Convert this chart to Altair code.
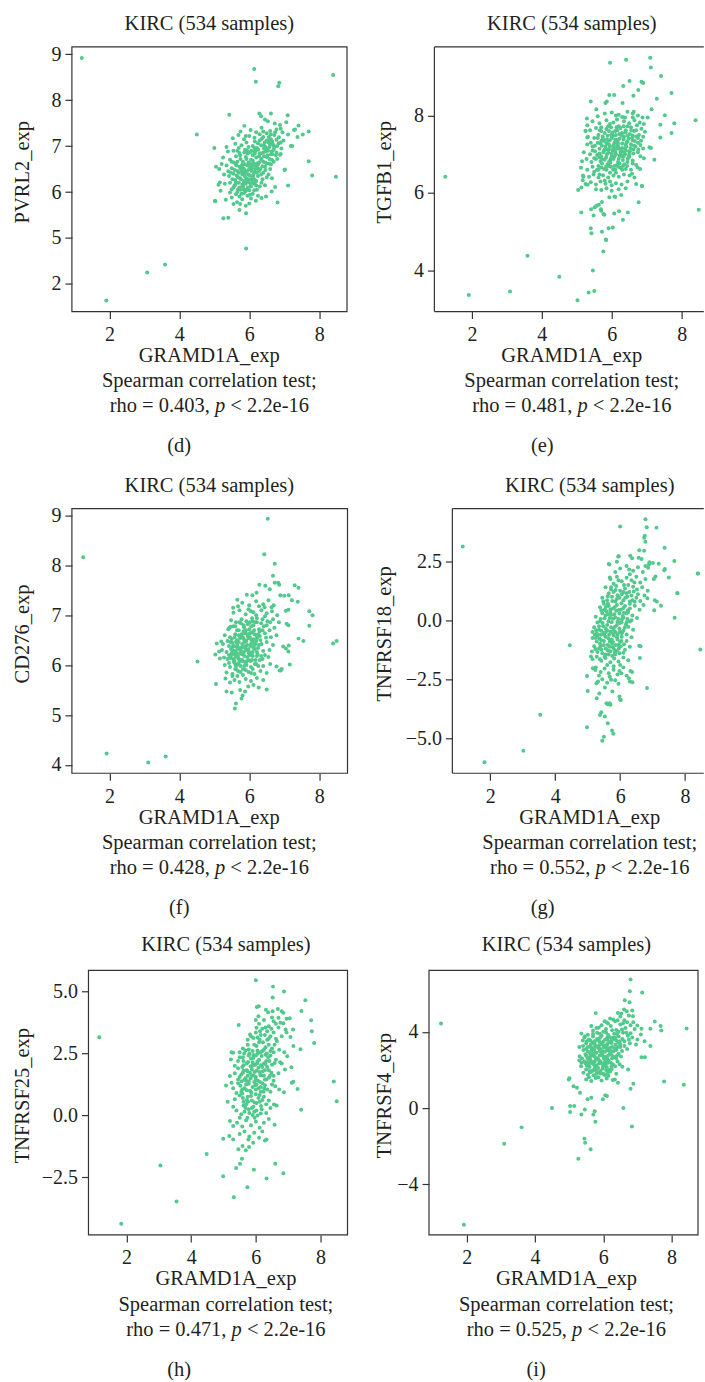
import altair as alt
import pandas as pd

FONT = "Liberation Serif, DejaVu Serif, serif"
GREEN = "#50c98b"
INK = "#231f20"
AX = "#333333"

TITLE = "KIRC (534 samples)"
X_TITLE = "GRAMD1A_exp"
TEST = "Spearman correlation test;"
X_TICKS = [2, 4, 6, 8]

Y_TITLES = {"d": "PVRL2_exp", "e": "TGFB1_exp", "f": "CD276_exp",
            "g": "TNFRSF18_exp", "h": "TNFRSF25_exp", "i": "TNFRSF4_exp"}
RHO = {"d": "0.403", "e": "0.481", "f": "0.428", "g": "0.552", "h": "0.471", "i": "0.525"}
Y_TICKS = {"d": [4, 5, 6, 7, 8, 9], "e": [4, 6, 8], "f": [4, 5, 6, 7, 8, 9],
           "g": [-5, -2.5, 0, 2.5], "h": [-2.5, 0, 2.5, 5], "i": [-4, 0, 4]}

# ---------------- panel (d) PVRL2 ----------------
D_OUT = [(1.21,8.92),(6.14,8.68),(6.19,8.40),(6.86,8.38),(6.83,8.30),(8.40,8.55),(4.50,7.25),(5.43,7.68),
         (6.29,7.71),(6.34,7.65),(6.62,7.71),(7.10,7.67),(7.70,7.32),(7.41,7.45),(7.31,7.36),(7.38,7.20),
         (7.53,7.25),(7.70,6.67),(7.80,6.36),(8.48,6.33),(5.00,6.96),(5.02,5.81),(5.26,5.43),(5.40,5.44),
         (5.91,4.77),(3.08,4.25),(3.59,4.42),(1.91,3.64),(6.81,5.77),(7.11,6.14),(7.02,6.49),(7.19,7.00),
         (7.23,7.00),(6.88,6.81),(7.28,7.35),(7.11,7.25),(7.06,7.52),(6.90,6.83)]
D_CORE = [(5.86,7.44),(6.04,7.35),(6.53,7.54),(6.73,7.49),(6.88,7.46),(6.45,7.58),(6.35,7.40),
          (5.75,7.32),(5.69,7.24),(6.20,7.30),(6.60,7.33),(6.78,7.36),(6.95,7.30),(6.50,7.28),(6.90,7.38),
          (5.53,7.17),(5.85,7.15),(6.00,7.22),(6.15,7.18),(6.40,7.20),(6.62,7.15),(6.72,7.24),(6.85,7.19),(6.98,7.12),(6.30,7.12),
          (5.35,6.98),(5.60,7.05),(5.78,7.02),(5.92,7.08),(6.10,7.00),(6.25,7.06),(6.42,7.02),(6.55,7.08),(6.68,7.04),(6.80,7.00),(6.92,6.95),(6.50,6.95),(6.70,6.92),
          (5.39,6.88),(5.55,6.90),(5.72,6.85),(5.88,6.92),(6.02,6.86),(6.18,6.90),(6.33,6.84),(6.47,6.88),(6.62,6.82),(6.78,6.86),(6.10,6.80),
          (5.25,6.75),(5.45,6.70),(5.62,6.78),(5.75,6.72),(5.90,6.76),(6.05,6.70),(6.20,6.75),(6.35,6.72),(6.50,6.76),(6.65,6.70),(6.80,6.72),(5.82,6.66),(6.28,6.64),(6.58,6.62),
          (5.05,6.55),(5.14,6.50),(5.21,6.61),(5.35,6.58),(5.50,6.52),(5.62,6.60),(5.72,6.55),(5.85,6.50),(5.95,6.58),(6.08,6.52),(6.20,6.56),(6.32,6.50),(6.45,6.55),(6.60,6.50),(7.01,6.48),(5.78,6.45),(6.15,6.44),(6.40,6.42),(6.55,6.38),
          (5.28,6.38),(5.42,6.35),(5.55,6.40),(5.68,6.32),(5.80,6.38),(5.92,6.30),(6.02,6.36),(6.12,6.30),(6.25,6.35),(6.38,6.28),(6.50,6.32),(6.65,6.30),(5.60,6.26),(5.98,6.22),(6.20,6.24),
          (5.16,6.21),(5.12,6.16),(5.30,6.18),(5.45,6.20),(5.58,6.14),(5.70,6.20),(5.82,6.12),(5.90,6.18),(6.05,6.12),(6.15,6.18),(6.30,6.12),(6.45,6.15),(6.74,6.11),(5.50,6.06),(5.75,6.05),(6.00,6.04),
          (5.18,6.03),(5.45,5.99),(5.50,5.88),(5.62,5.95),(5.72,5.90),(5.85,5.98),(5.95,5.92),(6.10,5.96),(6.25,5.92),(6.64,6.01),(6.48,5.90),(6.35,5.87),(5.80,5.84),(6.05,5.86),
          (5.03,5.80),(5.33,5.83),(5.55,5.74),(5.74,5.74),(6.00,5.75),(6.19,5.81),(5.90,5.70),(5.65,5.78),
          (5.72,5.61),(5.91,5.54),
          (5.66,6.66),(5.98,6.64),(6.12,6.62),(6.40,6.66),(5.88,6.40),(6.06,6.46),(6.28,6.46),(5.66,6.46),(5.85,6.24),(6.08,6.26),(6.35,6.20),
          (5.78,6.56),(6.02,6.52),(6.25,6.60),(5.95,6.84),(6.42,6.95),(6.58,6.98),(6.15,6.96),(5.70,6.96),(6.62,7.25),(6.40,7.32),(5.92,6.05),(6.22,6.05),
          (5.52,6.28),(5.64,6.36),(5.76,6.28),(5.88,6.34),(6.00,6.28),(6.12,6.38),(5.58,6.48),(5.70,6.42),(5.82,6.52),(5.94,6.46),(6.06,6.56),(6.18,6.50),
          (5.60,6.16),(5.72,6.10),(5.84,6.18),(5.96,6.10),(6.08,6.20),(6.20,6.14),(5.66,6.00),(5.78,5.96),(5.90,6.02),(6.02,5.94),(6.14,6.04),(5.55,6.10),
          (6.10,6.68),(6.22,6.62),(6.34,6.70),(6.46,6.64),(6.58,6.72),(6.70,6.66),(6.16,6.84),(6.28,6.78),(6.40,6.86),(6.52,6.80),(6.64,6.88),(6.76,6.80),
          (6.22,6.96),(6.34,7.02),(6.46,6.98),(6.60,7.04),(6.72,6.98),(6.84,7.06),(6.36,7.16),(6.50,7.12),(6.66,7.10),(6.78,7.14),(6.90,7.08),(6.56,7.20),
          (5.80,6.60),(5.92,6.72),(6.04,6.60),(5.74,6.80),(5.86,6.86),(5.98,6.98),(6.16,7.10),(5.90,7.22),(5.50,6.66),(5.40,6.45)]
D_MORE = [(5.64,6.58),(5.76,6.50),(5.88,6.60),(6.00,6.50),(6.12,6.58),(5.62,6.20),(5.74,6.30),(5.86,6.44),(5.98,6.38),(6.10,6.32),
          (6.22,6.42),(5.68,6.06),(5.80,6.16),(5.92,6.24),(6.04,6.16),(6.16,6.26),(5.84,6.06),(6.00,6.62),(6.30,6.84),(6.42,6.78),
          (6.54,6.90),(6.66,6.82),(6.44,7.08),(6.58,7.12),(6.70,7.00),(6.26,6.92),(6.38,6.56),(6.50,6.62),(6.62,6.60),(6.24,6.52),
          (5.94,6.90),(6.06,6.90),(6.30,7.26),(6.74,7.30),(5.66,6.90),(5.56,6.64),(5.48,6.42),(6.34,6.38),(6.46,6.48),(6.14,6.88)]

# ---------------- panel (e) TGFB1 ----------------
E_OUT = [(1.24,6.42),(1.91,3.37),(3.09,3.46),(3.59,4.38),(4.50,3.84),(5.02,3.23),(5.34,3.43),(5.50,3.47),
         (5.46,4.00),(5.76,4.49),(5.83,4.80),(8.40,7.88),(8.49,5.57),(5.95,9.36),(6.41,9.44),(7.10,9.49),
         (7.12,9.24),(7.41,9.02),(7.71,8.58),(7.79,7.80),(7.71,7.55),(7.52,8.01),(7.39,7.76),(7.39,7.43),
         (7.22,6.86),(7.29,8.43),(5.04,6.08),(5.13,5.50),(5.41,5.58),(5.51,5.63),(5.40,5.09),(5.42,4.96),
         (5.72,5.00),(5.91,5.09),(6.03,5.11),(6.07,5.47),(6.21,5.53),(6.46,5.50),(6.32,5.31),(6.77,5.76),
         (6.86,6.18),(5.70,5.54),(5.79,5.44),(6.08,5.91),(6.27,5.95),(5.40,8.36),(5.56,8.16),(5.93,8.53),
         (6.07,8.53),(6.33,8.76),(6.51,8.89),(6.85,8.87),(6.90,8.84),(6.62,8.51),(6.76,8.66),(5.29,7.92),
         (5.25,7.61),(5.30,7.43),(5.82,8.32),(5.86,8.36),(6.31,8.32),(6.63,8.10),(7.14,8.16),(7.08,7.18),
         (7.12,7.16),(6.92,6.90),(7.03,7.95),(5.57,5.67),(5.63,5.70),(5.48,5.42),(5.69,5.58),(5.76,5.46),
         (5.72,5.77),(5.93,5.89),(6.10,5.90),(5.84,4.79),(5.13,6.14),(5.17,6.33),(5.19,6.42),(5.25,6.23),
         (5.31,6.21),(6.70,6.23),(6.87,6.18),(6.74,6.66),(6.81,6.62),(6.65,6.40),(6.51,6.45)]
E_CORE = [(5.80,8.05),(6.00,8.08),(6.20,8.02),(6.45,8.10),(6.60,8.05),(6.75,8.00),(6.88,7.95),(5.60,7.98),(6.30,7.96),
          (5.45,7.85),(5.65,7.80),(5.85,7.88),(6.05,7.82),(6.15,7.90),(6.35,7.85),(6.50,7.80),(6.65,7.88),(6.80,7.82),(6.92,7.78),(5.30,7.75),
          (5.38,7.62),(5.55,7.68),(5.70,7.60),(5.85,7.65),(5.98,7.70),(6.10,7.60),(6.25,7.68),(6.40,7.62),(6.55,7.70),(6.70,7.62),(6.85,7.66),(6.95,7.58),(5.25,7.60),
          (5.32,7.45),(5.50,7.42),(5.62,7.50),(5.75,7.40),(5.88,7.48),(6.00,7.42),(6.12,7.50),(6.22,7.40),(6.35,7.46),(6.48,7.40),(6.60,7.48),(6.75,7.42),(6.90,7.45),(6.02,7.56),(6.30,7.55),
          (5.30,7.25),(5.45,7.20),(5.60,7.30),(5.72,7.22),(5.85,7.28),(5.95,7.20),(6.08,7.30),(6.18,7.22),(6.30,7.28),(6.42,7.20),(6.55,7.26),(6.68,7.20),(6.82,7.24),(5.90,7.35),(6.15,7.36),(6.45,7.33),
          (5.20,7.05),(5.38,7.00),(5.52,7.08),(5.65,7.02),(5.78,7.10),(5.90,7.04),(6.02,7.10),(6.12,7.00),(6.25,7.06),(6.38,7.00),(6.50,7.08),(6.62,7.02),(6.75,7.05),(5.70,6.95),(6.00,6.96),(6.30,6.94),
          (5.15,6.82),(5.28,6.88),(5.42,6.80),(5.55,6.88),(5.68,6.82),(5.80,6.86),(5.92,6.80),(6.05,6.88),(6.18,6.80),(6.32,6.85),(6.45,6.80),(6.60,6.84),
          (5.12,6.65),(5.30,6.60),(5.45,6.68),(5.58,6.60),(5.70,6.66),(5.85,6.60),(5.98,6.68),(6.10,6.60),(6.25,6.65),(6.40,6.62),(6.55,6.60),(5.50,6.55),
          (5.18,6.45),(5.35,6.42),(5.48,6.48),(5.62,6.40),(5.75,6.46),(5.90,6.40),(6.05,6.45),(6.20,6.42),(6.35,6.48),
          (5.40,6.28),(5.55,6.22),(5.68,6.30),(5.82,6.24),(5.95,6.30),(6.12,6.25),(6.28,6.22),(6.45,6.30),
          (5.55,6.10),(5.70,6.08),(5.85,6.12),(6.00,6.06),(6.20,6.10),(6.40,6.12),
          (5.92,7.12),(6.22,7.14),(6.05,7.24),(5.78,7.34),(6.40,7.10),(6.60,7.36),(5.65,7.14),(6.15,6.72),(6.32,6.70),(5.88,6.74),(6.48,6.92),(5.95,6.52),(6.12,6.52),(5.65,6.92),(6.75,7.30),
          (5.70,7.35),(5.82,7.20),(5.94,7.36),(6.06,7.20),(6.18,7.30),(6.30,7.16),(6.42,7.30),(6.54,7.16),(6.66,7.34),(5.76,7.05),(5.88,7.12),(6.00,7.02),(6.14,7.14),(6.26,7.00),(6.38,7.14),(6.50,7.00),(6.62,7.12),
          (5.80,7.55),(5.92,7.60),(6.04,7.48),(6.16,7.62),(6.28,7.48),(6.40,7.56),(6.52,7.52),(6.64,7.60),(6.78,7.50),(5.84,6.92),(5.96,6.86),(6.08,6.94),(6.20,6.88),(6.34,6.94),(6.46,6.88),
          (5.72,6.76),(5.84,6.68),(5.96,6.78),(6.08,6.70),(6.22,6.76),(6.36,6.74),(5.62,6.70),(5.58,6.98),(5.60,7.42),(5.70,7.70),(5.95,7.78),(6.20,7.72),(6.45,7.72),(6.72,7.75),(6.60,7.95),(6.38,7.95),(6.12,8.00),
          (5.50,6.90),(5.45,7.10),(5.40,7.30),(6.84,7.35),(6.90,7.15),(6.82,6.95),(6.70,6.72),(6.58,6.50),(5.65,6.48),(5.80,6.32),(6.00,6.20)]
E_MORE = [(5.74,7.46),(5.86,7.38),(5.98,7.50),(6.10,7.38),(6.22,7.52),(6.34,7.38),(6.46,7.48),(6.58,7.42),(5.68,7.28),(5.80,7.12),
          (5.92,7.26),(6.04,7.12),(6.16,7.24),(6.28,7.08),(6.40,7.24),(6.52,7.08),(6.64,7.22),(5.72,6.88),(5.86,7.00),(5.98,6.90),
          (6.10,7.06),(6.22,6.96),(6.36,7.06),(6.50,6.94),(5.78,6.62),(5.92,6.70),(6.04,6.60),(6.18,6.68),(6.30,6.60),(6.44,6.70),
          (5.66,7.62),(5.90,7.72),(6.14,7.70),(6.34,7.72),(6.56,7.62),(5.62,6.60),(5.52,7.22),(6.70,7.46),(6.76,7.12),(6.60,6.76)]

# ---------------- panel (f) CD276 ----------------
F_OUT = [(1.25,8.16),(1.92,4.23),(3.11,4.05),(3.61,4.17),(4.52,6.07),(6.53,8.93),(6.43,8.22),(6.73,8.03),
         (6.68,7.79),(6.73,7.65),(6.83,7.65),(6.86,7.61),(7.30,7.60),(7.41,7.55),(6.29,7.61),(6.46,7.59),
         (6.59,7.52),(5.93,7.41),(6.21,7.45),(6.09,7.40),(5.66,7.31),(5.54,7.15),(6.89,7.40),(7.00,7.39),
         (7.13,7.40),(7.22,7.30),(7.39,7.27),(7.05,7.09),(7.12,7.11),(7.72,7.08),(7.81,7.00),(7.72,6.79),
         (7.41,6.53),(7.55,6.48),(8.40,6.43),(8.50,6.48),(7.16,6.01),(6.87,5.89),(6.50,5.51),(5.59,5.13),
         (5.62,5.23),(5.05,5.62),(5.03,6.21),(5.07,6.43),(5.20,6.47),(5.43,6.75),(5.47,6.77),(5.14,6.27),
         (5.16,6.13),(5.32,5.73),(5.45,5.65),(5.35,5.47),(5.50,5.45),(5.74,5.50),(5.88,5.47),(5.97,5.57),
         (5.78,5.33),(5.81,5.39),(6.27,5.55),(6.12,5.60),(6.78,5.97),(6.93,5.92),(7.05,6.33),(7.12,6.27),
         (6.97,6.37),(7.12,6.80),(7.07,6.83),(7.13,6.39),(6.90,5.89)]
F_CORE = [(5.80,7.25),(6.00,7.20),(6.20,7.28),(6.40,7.22),(6.55,7.30),(6.70,7.20),(5.68,7.18),
          (5.55,7.05),(5.72,7.10),(5.90,7.02),(6.05,7.08),(6.20,7.00),(6.35,7.10),(6.50,7.04),(6.65,7.08),(6.80,7.00),
          (5.48,6.90),(5.62,6.86),(5.78,6.92),(5.92,6.88),(6.08,6.94),(6.22,6.86),(6.38,6.92),(6.52,6.88),(6.68,6.92),(6.85,6.86),
          (5.40,6.72),(5.55,6.78),(5.70,6.70),(5.85,6.76),(6.00,6.72),(6.12,6.80),(6.28,6.72),(6.42,6.78),(6.58,6.70),(6.72,6.75),
          (5.30,6.60),(5.45,6.56),(5.60,6.62),(5.75,6.58),(5.88,6.64),(6.02,6.56),(6.15,6.62),(6.30,6.58),(6.45,6.64),(6.62,6.56),(6.78,6.60),
          (5.25,6.42),(5.38,6.48),(5.52,6.44),(5.65,6.50),(5.80,6.42),(5.92,6.48),(6.05,6.42),(6.20,6.48),(6.35,6.42),(6.50,6.46),(6.68,6.40),
          (5.22,6.30),(5.35,6.26),(5.48,6.32),(5.60,6.28),(5.72,6.34),(5.85,6.26),(5.98,6.32),(6.10,6.26),(6.25,6.34),(6.40,6.28),(6.58,6.30),
          (5.28,6.15),(5.42,6.20),(5.55,6.12),(5.68,6.18),(5.80,6.10),(5.95,6.16),(6.08,6.10),(6.22,6.18),(6.38,6.12),(6.55,6.16),
          (5.30,6.00),(5.45,5.96),(5.60,6.02),(5.75,5.98),(5.90,6.04),(6.05,5.96),(6.20,6.02),(6.40,5.98),(6.60,6.02),
          (5.35,5.85),(5.52,5.82),(5.68,5.88),(5.82,5.80),(5.98,5.86),(6.15,5.82),(6.32,5.88),(6.50,5.84),
          (5.58,5.70),(5.72,5.66),(5.90,5.72),(6.05,5.68),(6.22,5.74),(6.40,5.70),
          (5.52,6.36),(5.66,6.40),(5.78,6.22),(5.90,6.38),(6.02,6.20),(5.58,6.08),(5.72,6.06),(5.85,6.52),(6.12,6.52),(5.95,6.62),
          (5.50,6.24),(5.64,6.24),(5.88,6.06),(6.15,6.40),(6.30,6.68),(6.02,6.86),(5.76,6.84),(6.45,6.98),(5.62,5.92),(5.82,5.92),
          (5.50,6.52),(5.62,6.46),(5.74,6.54),(5.86,6.46),(5.98,6.54),(6.10,6.46),(6.22,6.54),(5.56,6.38),(5.68,6.32),(5.80,6.36),(5.92,6.30),(6.04,6.38),(6.16,6.32),(6.28,6.40),
          (5.50,6.20),(5.62,6.16),(5.74,6.24),(5.86,6.18),(5.98,6.24),(6.10,6.18),(6.22,6.26),(5.56,6.06),(5.68,6.02),(5.80,6.08),(5.92,6.00),(6.04,6.08),(6.16,6.02),(6.30,6.10),
          (5.60,5.92),(5.75,5.86),(5.90,5.90),(6.05,5.84),(5.65,6.70),(5.78,6.62),(5.90,6.70),(6.02,6.64),(6.14,6.70),(6.26,6.62),(6.38,6.70),(5.72,6.86),(5.84,6.80),(5.96,6.82),
          (6.10,6.88),(6.22,6.94),(6.34,6.84),(6.50,6.80),(6.12,7.06),(5.98,7.12),(6.28,7.18),(6.44,7.16),(5.42,6.38),(5.38,6.12),(6.45,6.20),(6.48,6.55),(6.60,6.86),(6.64,7.16)]
F_MORE = [(5.46,6.46),(5.58,6.56),(5.70,6.46),(5.82,6.56),(5.94,6.40),(6.06,6.50),(6.18,6.42),(5.52,6.30),(5.64,6.36),(5.76,6.30),
          (5.88,6.34),(6.00,6.26),(6.12,6.34),(6.24,6.22),(5.46,6.14),(5.58,6.22),(5.70,6.12),(5.82,6.22),(5.94,6.08),(6.06,6.22),
          (6.18,6.10),(5.62,5.98),(5.74,6.10),(5.86,5.98),(5.98,6.10),(6.10,5.92),(6.26,5.98),(5.70,6.60),(5.84,6.68),(5.96,6.58),
          (6.08,6.66),(6.20,6.60),(5.60,6.78),(6.06,6.78),(6.18,6.86),(6.32,6.50),(6.34,6.18),(5.42,6.04),(5.52,5.78),(5.66,5.78)]

# ---------------- panel (g) TNFRSF18 ----------------
G_OUT = [(1.15,3.13),(1.82,-6.03),(3.02,-5.54),(3.54,-4.01),(4.45,-1.06),(6.00,3.98),(6.78,4.29),(6.82,3.95),
         (6.76,3.59),(6.74,3.50),(6.78,3.33),(7.12,3.93),(7.37,3.08),(7.67,2.51),(7.50,1.81),(7.76,1.16),
         (8.39,1.98),(8.47,-1.24),(7.68,0.11),(7.26,0.62),(6.83,-2.88),(4.98,-2.37),(5.00,-3.00),(4.98,-4.54),
         (5.28,-3.31),(5.36,-3.11),(5.45,-5.11),(5.50,-4.94),(5.38,-4.02),(5.42,-3.90),(5.53,-4.08),(5.75,-4.68),
         (5.79,-4.82),(5.62,-4.37),(5.68,-3.52),(5.62,-3.56),(6.02,-3.38),(5.98,-3.24),(6.32,-2.15),(6.37,-2.20),
         (6.20,-2.35),(6.27,-2.46),(5.76,-3.02),(6.59,2.97),(6.74,2.95),(6.31,2.74),(6.37,2.63),(5.96,2.72),
         (5.67,2.37),(5.90,2.48),(6.57,2.65),(6.66,2.60),(6.90,2.46),(6.86,2.23),(7.19,2.40),(7.36,2.12),
         (7.04,1.75),(7.09,1.86),(7.07,0.85),(7.13,0.79),(7.05,0.42),(6.84,0.93),(6.72,0.65),(6.63,-1.10),
         (6.59,-1.08),(5.27,-2.67),(5.32,-2.60),(5.53,-2.85),(5.72,-2.53),(5.98,-2.15),(6.04,-2.25),(5.16,-2.04),
         (5.24,-2.11),(5.13,-1.33),(5.10,-1.54),(6.61,-1.60),(6.30,-2.60),(6.38,-2.63),(5.65,2.39),(5.94,2.70),
         (5.68,1.81),(7.38,2.17),(7.01,2.43),(6.89,2.37),(7.77,1.14),(8.40,1.98),(6.00,-3.36),(5.58,-3.52),(5.70,-3.59)]
G_CORE = [(6.00,2.20),(6.20,2.30),(6.40,2.10),(6.55,2.25),(6.70,2.05),(5.85,2.05),(6.30,1.95),(6.78,2.30),
          (5.70,1.75),(5.90,1.85),(6.05,1.65),(6.20,1.80),(6.35,1.70),(6.50,1.85),(6.62,1.60),(6.78,1.75),(5.80,1.55),(6.12,1.50),
          (5.55,1.40),(5.72,1.30),(5.88,1.45),(6.00,1.25),(6.15,1.35),(6.28,1.20),(6.40,1.42),(6.52,1.30),(6.68,1.40),(6.85,1.25),(5.65,1.15),(6.35,1.05),
          (5.45,0.95),(5.60,0.85),(5.75,1.00),(5.85,0.80),(5.98,0.95),(6.10,0.85),(6.22,1.00),(6.38,0.85),(6.50,0.95),(6.62,0.82),(6.75,1.05),(5.50,0.70),
          (5.38,0.55),(5.52,0.45),(5.65,0.60),(5.78,0.50),(5.90,0.65),(6.02,0.45),(6.15,0.60),(6.30,0.50),(6.45,0.62),(6.60,0.45),(5.70,0.35),(6.20,0.30),
          (5.25,0.15),(5.40,0.05),(5.55,0.20),(5.68,0.10),(5.82,0.25),(5.95,0.05),(6.08,0.18),(6.22,0.05),(6.38,0.20),(6.52,0.10),(5.30,-0.10),(6.00,-0.12),
          (5.20,-0.30),(5.35,-0.40),(5.48,-0.25),(5.60,-0.45),(5.72,-0.30),(5.85,-0.50),(5.98,-0.35),(6.10,-0.45),(6.25,-0.28),(6.40,-0.40),(5.15,-0.50),
          (5.15,-0.75),(5.30,-0.65),(5.42,-0.85),(5.55,-0.70),(5.68,-0.90),(5.80,-0.65),(5.92,-0.82),(6.05,-0.70),(6.20,-0.88),(6.35,-0.72),(5.75,-1.00),
          (5.20,-1.10),(5.35,-1.20),(5.50,-1.05),(5.62,-1.28),(5.78,-1.15),(5.90,-1.30),(6.02,-1.10),(6.15,-1.25),(6.30,-1.12),(5.45,-1.40),(5.85,-1.45),
          (5.15,-1.65),(5.28,-1.55),(5.42,-1.72),(5.55,-1.60),(5.70,-1.78),(5.82,-1.62),(5.95,-1.75),(6.10,-1.58),(6.25,-1.70),(5.60,-1.90),
          (5.25,-2.00),(5.40,-2.20),(5.52,-2.05),(5.65,-2.25),(5.80,-2.10),(5.92,-2.30),(6.10,-2.00),(5.35,-2.35),
          (5.45,-2.50),(5.60,-2.65),(5.85,-2.55),(5.95,-2.70),
          (5.62,0.25),(5.88,0.40),(6.12,0.32),(5.50,-0.55),(5.78,-0.55),(6.05,-0.55),(5.65,-1.45),(5.95,-1.05),(6.30,0.80),(6.05,1.10),(5.80,1.20),
          (5.45,0.30),(5.58,0.38),(5.72,0.22),(5.85,0.12),(5.98,0.30),(6.10,0.12),(6.25,0.35),(6.35,0.00),(5.35,-0.25),(5.46,-0.12),(5.60,-0.20),(5.74,-0.08),
          (5.90,-0.20),(6.04,-0.08),(6.18,-0.18),(6.30,-0.05),(5.28,-0.55),(5.40,-0.62),(5.54,-0.52),(5.66,-0.62),(5.80,-0.40),(5.92,-0.60),(6.06,-0.50),(6.20,-0.60),
          (5.28,-0.90),(5.38,-1.00),(5.50,-0.88),(5.62,-1.05),(5.74,-0.82),(5.86,-1.05),(6.00,-0.92),(6.12,-1.02),(5.30,-1.35),(5.42,-1.25),(5.55,-1.45),(5.70,-1.32),
          (5.82,-1.25),(5.98,-1.40),(6.10,-1.38),(5.48,0.80),(5.62,0.70),(5.76,0.82),(5.90,0.90),(6.04,0.72),(6.16,0.95),(6.30,0.70),(6.45,0.78),(5.72,1.40),
          (5.86,1.28),(6.10,1.20),(6.25,1.50),(6.44,1.60),(6.55,1.10),(5.95,1.70),(6.28,2.15),(5.25,-0.75),(5.38,-1.65),(5.80,-1.95),(6.00,-1.90),(5.68,-2.40)]
G_MORE = [(5.42,0.42),(5.56,0.56),(5.70,0.46),(5.84,0.56),(5.96,0.44),(6.10,0.52),(6.24,0.42),(5.38,-0.05),(5.52,0.08),(5.64,-0.04),
          (5.78,0.06),(5.92,-0.06),(6.06,0.04),(6.20,-0.10),(5.26,-0.42),(5.42,-0.45),(5.56,-0.36),(5.70,-0.48),(5.84,-0.28),(5.98,-0.50),
          (6.14,-0.32),(5.22,-0.62),(5.36,-0.78),(5.50,-0.62),(5.64,-0.76),(5.78,-0.92),(5.90,-0.72),(6.04,-0.88),(5.24,-1.22),(5.40,-1.10),
          (5.56,-1.20),(5.68,-1.12),(5.84,-1.38),(5.96,-1.20),(5.52,-1.55),(5.76,-1.52),(5.62,1.02),(5.92,1.06),(6.20,1.15),(6.42,1.22)]

# ---------------- panel (h) TNFRSF25 ----------------
H_OUT = [(1.16,3.16),(1.84,-4.38),(3.05,-2.02),(3.55,-3.48),(4.48,-1.56),(4.99,-2.46),(5.32,-3.31),(5.74,-2.90),
         (5.39,-2.12),(5.94,-2.19),(6.33,-2.55),(6.60,-1.95),(6.85,-2.34),(6.00,5.46),(6.53,5.20),(6.87,5.00),
         (6.52,4.76),(7.53,4.65),(7.41,4.22),(7.71,3.84),(7.73,3.40),(7.80,2.92),(7.38,2.67),(8.41,1.37),
         (8.50,0.57),(7.40,0.23),(7.29,1.07),(7.16,1.36),(6.87,0.93),(5.47,3.65),(5.25,2.55),(4.99,-0.94),
         (5.13,0.55),(5.08,1.21),(5.57,-1.75),(5.51,-1.95),(5.69,-1.41),(5.79,-1.28),(6.09,4.41),(6.03,4.38),
         (6.08,4.00),(6.31,4.27),(6.38,4.17),(6.52,4.21),(6.68,4.30),(6.80,4.21),(6.85,4.14),(6.70,3.94),
         (6.76,3.74),(6.95,3.90),(7.05,3.92),(6.92,3.47),(7.15,3.47),(7.07,3.17),(7.16,2.80),(6.97,2.39),
         (6.90,1.85),(6.80,2.10),(7.10,1.94),(7.11,1.32),(6.60,1.18),(6.72,1.05),(6.56,0.44),(6.64,0.40),
         (6.58,-0.38),(6.33,-0.97),(6.28,-1.01),(5.30,2.53),(5.23,2.26),(5.20,1.59),(5.25,1.32),(5.20,-0.23),
         (5.30,-0.43),(5.18,-0.83),(5.30,-0.97),(5.46,-1.37),(5.59,-1.24),(5.77,-0.97),(5.92,-1.10),(5.82,3.27),
         (5.92,3.13),(6.02,3.54),(6.13,3.40)]
H_CORE = [(6.10,3.70),(6.25,3.85),(6.40,3.60),(6.55,3.80),(6.70,3.55),(6.85,3.72),(6.20,3.50),(6.50,3.95),(6.00,3.85),
          (5.85,3.20),(6.00,3.35),(6.12,3.05),(6.28,3.25),(6.40,3.10),(6.55,3.35),(6.65,3.00),(6.80,3.20),(6.95,3.35),(5.75,3.05),(6.35,3.40),
          (5.60,2.70),(5.75,2.85),(5.90,2.60),(6.02,2.80),(6.15,2.55),(6.30,2.75),(6.45,2.60),(6.58,2.85),(6.72,2.65),(6.88,2.55),(5.50,2.55),(6.22,2.95),
          (5.45,2.20),(5.60,2.35),(5.72,2.10),(5.85,2.30),(5.98,2.05),(6.10,2.25),(6.25,2.10),(6.38,2.35),(6.50,2.05),(6.62,2.25),(6.75,2.15),(5.35,2.00),(6.00,2.42),
          (5.35,1.70),(5.50,1.55),(5.62,1.80),(5.75,1.60),(5.88,1.85),(6.00,1.55),(6.12,1.75),(6.25,1.60),(6.40,1.82),(6.55,1.60),(6.70,1.70),(5.45,1.90),
          (5.30,1.10),(5.45,1.30),(5.58,1.05),(5.70,1.25),(5.82,1.00),(5.95,1.35),(6.08,1.10),(6.20,1.30),(6.35,1.05),(6.50,1.25),(5.65,1.45),(6.00,1.45),
          (5.35,0.65),(5.50,0.80),(5.62,0.55),(5.75,0.75),(5.88,0.60),(6.00,0.85),(6.12,0.55),(6.25,0.75),(6.40,0.60),(5.55,0.95),(6.15,0.95),
          (5.40,0.20),(5.55,0.05),(5.68,0.30),(5.80,0.10),(5.92,0.35),(6.05,0.00),(6.18,0.25),(6.32,0.10),(6.45,0.30),(5.30,0.35),
          (5.42,-0.30),(5.58,-0.45),(5.70,-0.20),(5.85,-0.40),(6.00,-0.25),(6.12,-0.50),(6.25,-0.30),(6.40,-0.15),(5.50,-0.10),
          (5.50,-0.75),(5.65,-0.65),(5.80,-0.85),(5.95,-0.70),(6.10,-0.90),(6.20,-0.65),
          (6.30,2.45),(6.05,2.62),(5.80,2.50),(6.45,3.20),(5.90,2.15),(6.20,1.95),(5.78,1.38),(6.28,1.45),(5.70,0.45),(5.95,0.15),(6.15,3.25),
          (5.62,2.20),(5.78,2.42),(5.92,2.32),(6.05,2.18),(6.18,2.40),(6.32,2.20),(6.45,2.42),(6.58,2.12),(5.58,1.95),(5.72,1.82),(5.84,1.98),(5.96,1.75),
          (6.08,1.92),(6.22,1.78),(6.35,1.95),(6.48,1.72),(5.55,1.65),(5.68,1.50),(5.82,1.72),(5.94,1.60),(6.06,1.40),(6.18,1.62),(6.32,1.45),(6.44,1.60),
          (5.52,1.20),(5.65,1.10),(5.78,1.28),(5.90,1.15),(6.02,1.25),(6.15,1.15),(6.28,1.22),(5.60,0.70),(5.72,0.62),(5.85,0.78),(5.96,0.52),(6.08,0.70),
          (6.20,0.62),(6.32,0.45),(5.65,0.15),(5.78,0.25),(5.90,0.02),(6.02,0.20),(6.15,0.08),(5.95,2.85),(6.10,2.95),(6.25,2.65),(6.40,2.85),(6.55,2.55),
          (6.62,3.10),(6.35,3.05),(6.05,3.15),(6.48,3.50),(6.30,3.55),(6.62,3.70),(5.68,2.62),(5.50,2.35),(5.45,1.45),(5.40,0.90),(6.45,0.95),(6.55,1.40)]
H_MORE = [(5.64,2.50),(5.78,2.66),(5.92,2.44),(6.06,2.50),(6.20,2.60),(6.34,2.50),(6.50,2.70),(5.62,2.02),(5.76,2.16),(5.90,2.00),
          (6.04,2.10),(6.16,2.02),(6.30,2.08),(6.42,2.20),(5.60,1.72),(5.74,1.78),(5.88,1.62),(6.02,1.80),(6.14,1.62),(6.28,1.82),
          (6.40,1.52),(5.56,1.38),(5.70,1.40),(5.84,1.50),(5.98,1.22),(6.12,1.36),(6.26,1.10),(5.58,0.88),(5.72,1.02),(5.86,0.92),
          (6.00,1.05),(6.12,0.82),(6.24,0.95),(5.62,0.40),(5.76,0.55),(5.88,0.30),(6.02,0.50),(6.16,0.38),(5.74,-0.10),(5.96,-0.10)]

# ---------------- panel (i) TNFRSF4 ----------------
I_OUT = [(1.25,4.43),(1.92,-6.11),(3.10,-1.87),(3.61,-1.01),(4.50,0.00),(5.03,0.11),(5.15,0.11),(5.03,-0.21),
         (5.27,-2.65),(5.45,-1.60),(5.47,-1.81),(5.63,-2.16),(5.77,-0.71),(6.59,0.00),(6.84,-0.96),(6.80,6.74),
         (6.78,6.13),(7.14,6.06),(6.63,5.66),(6.77,5.55),(5.78,4.98),(7.51,4.54),(7.68,4.30),(7.70,4.07),
         (7.38,4.16),(7.38,3.25),(7.12,2.67),(7.22,2.67),(7.78,1.40),(8.36,1.22),(8.44,4.17),(6.88,1.28),
         (6.80,1.01),(4.99,1.50),(5.13,1.15),(6.61,5.17),(6.69,5.08),(6.43,4.99),(6.53,4.96),(6.85,5.12),
         (6.87,4.82),(7.00,4.33),(7.12,4.16),(7.10,3.86),(7.00,3.60),(7.21,3.51),(6.96,3.34),(6.56,2.17),
         (6.73,2.03),(6.43,1.33),(6.34,1.50),(6.06,0.68),(6.11,0.63),(5.99,0.46),(5.75,-0.16),(5.71,-0.33),
         (5.36,-0.33),(5.46,-0.07),(5.54,0.46),(5.65,0.54),(5.32,0.81),(5.23,1.07),(5.01,1.56),(5.36,3.91),
         (5.46,3.77),(5.41,3.25),(5.31,2.72),(5.36,2.38),(5.65,4.30),(5.87,4.21),(6.04,4.56),(6.14,4.43),(6.29,4.64)]
I_CORE = [(6.20,4.70),(6.35,4.55),(6.50,4.80),(6.62,4.60),(6.75,4.85),(6.88,4.50),(6.10,4.50),
          (5.80,4.20),(5.95,4.35),(6.08,4.15),(6.22,4.30),(6.38,4.10),(6.50,4.38),(6.65,4.20),(6.80,4.35),(6.92,4.15),(5.70,4.05),
          (5.55,3.85),(5.70,3.75),(5.82,3.95),(5.95,3.80),(6.08,3.98),(6.20,3.72),(6.32,3.90),(6.45,3.75),(6.58,3.95),(6.72,3.80),(6.85,3.70),(5.45,3.70),
          (5.50,3.40),(5.62,3.55),(5.75,3.35),(5.88,3.50),(6.00,3.30),(6.12,3.58),(6.25,3.42),(6.38,3.55),(6.50,3.35),(6.62,3.50),(6.78,3.40),(5.40,3.55),
          (5.42,3.05),(5.55,2.95),(5.68,3.15),(5.80,2.90),(5.92,3.10),(6.05,2.95),(6.18,3.15),(6.30,2.98),(6.42,3.20),(6.55,3.00),(6.70,3.10),(5.30,3.20),
          (5.38,2.60),(5.50,2.75),(5.62,2.55),(5.75,2.70),(5.88,2.50),(6.00,2.72),(6.12,2.55),(6.25,2.78),(6.38,2.60),(6.52,2.70),(5.30,2.50),
          (5.35,2.20),(5.48,2.35),(5.60,2.15),(5.72,2.30),(5.85,2.10),(5.98,2.32),(6.10,2.15),(6.22,2.38),(6.35,2.20),(6.48,2.30),
          (5.42,1.85),(5.55,1.75),(5.68,1.95),(5.80,1.80),(5.92,1.95),(6.05,1.72),(6.20,1.90),(6.38,1.80),
          (5.50,1.50),(5.65,1.42),(5.78,1.58),(5.95,1.45),(6.10,1.55),(6.28,1.48),
          (5.85,3.22),(6.10,3.30),(5.62,2.85),(5.95,2.82),(6.30,3.70),(6.45,4.00),(5.75,2.45),(6.05,2.45),(5.55,2.42),(6.15,2.02),(5.90,3.68),
          (5.58,3.60),(5.70,3.45),(5.82,3.62),(5.94,3.42),(6.06,3.60),(6.18,3.45),(6.30,3.62),(6.44,3.45),(6.56,3.62),(5.55,3.20),(5.66,3.02),(5.78,3.22),
          (5.90,3.00),(6.02,3.18),(6.14,3.02),(6.26,3.20),(6.38,3.05),(6.50,3.20),(5.48,2.82),(5.60,2.68),(5.72,2.85),(5.84,2.62),(5.96,2.88),(6.08,2.68),
          (6.20,2.88),(6.32,2.68),(6.45,2.85),(5.45,2.45),(5.56,2.28),(5.68,2.42),(5.80,2.25),(5.92,2.45),(6.04,2.28),(6.16,2.48),(6.28,2.30),(6.42,2.45),
          (5.50,2.02),(5.62,1.88),(5.74,2.05),(5.86,1.88),(5.98,2.08),(6.12,1.85),(6.25,2.05),(5.58,1.62),(5.72,1.72),(5.86,1.62),(6.00,1.80),(6.15,1.70),
          (6.00,4.00),(6.14,3.85),(6.26,4.08),(6.40,3.88),(6.55,4.12),(6.68,3.95),(6.70,4.50),(6.58,4.45),(6.42,4.60),(6.75,3.58),(6.62,3.25),(6.80,3.92)]
I_MORE = [(5.52,3.50),(5.64,3.35),(5.76,3.52),(5.88,3.30),(6.00,3.48),(6.12,3.36),(6.24,3.54),(6.36,3.32),(6.48,3.50),(5.50,3.10),
          (5.62,3.22),(5.74,3.05),(5.86,3.15),(5.98,2.98),(6.10,3.12),(6.22,3.00),(6.34,3.14),(5.54,2.60),(5.66,2.74),(5.78,2.58),
          (5.90,2.76),(6.02,2.60),(6.14,2.74),(6.26,2.62),(6.40,2.74),(5.52,2.22),(5.64,2.36),(5.76,2.18),(5.88,2.34),(6.00,2.20),
          (6.12,2.36),(6.24,2.18),(5.60,1.95),(5.78,1.98),(5.92,1.82),(6.08,2.00),(5.70,3.88),(5.90,3.90),(6.12,3.70),(6.35,3.68)]

PTS = {"d": D_OUT + D_CORE + D_MORE, "e": E_OUT + E_CORE + E_MORE, "f": F_OUT + F_CORE + F_MORE,
       "g": G_OUT + G_CORE + G_MORE, "h": H_OUT + H_CORE + H_MORE, "i": I_OUT + I_CORE + I_MORE}

# layout / styling per panel (pixels, not data)
LAY = {
    "d": dict(w=276, inset=0, fw=275.5, right=True, xdom=[0.9257, 8.8114], ydom=[3.398, 9.159], fmt="d",
              tdy=-16.7, ylx=-43.0, lx=107.5, expr="datum.value == 4 ? '2' : datum.label", anchor=True),
    "e": dict(w=275.2, inset=5.4, fw=275.2, right=False, xdom=[0.7714, 8.6343], ydom=[2.9406, 9.7706], fmt="d",
              tdy=-16.7, ylx=-43.9, lx=113.5),
    "f": dict(w=276, inset=0, fw=276, right=True, xdom=[0.926, 8.812], ydom=[3.834, 9.134], fmt="d",
              tdy=-16.7, ylx=-42.9, lx=107.5),
    "g": dict(w=275.2, inset=23.4, fw=275.2, right=False, xdom=[0.1108, 8.5785], ydom=[-6.492, 4.737], fmt=".1f",
              tdy=-16.7, ylx=-61.9, lx=113.9),
    "h": dict(w=276, inset=16.6, fw=276, right=True, xdom=[0.3148, 8.8333], ydom=[-4.827, 5.859], fmt=".1f",
              tdy=-19.0, ylx=-59.5, lx=107.5),
    "i": dict(w=269.4, inset=0, fw=269.4, right=True, xdom=[0.8977, 8.7748], ydom=[-6.649, 7.225], fmt="d",
              tdy=-19.0, ylx=-38.5, lx=107.2),
}
H = 265
FS = 20.5


def one():
    return alt.Data(values=[{"k": 0}])


def txt(s, x, y, align="center", angle=0, italic=False, size=FS):
    kw = dict(text=s, font=FONT, fontSize=size, color=INK, align=align, baseline="alphabetic")
    if angle:
        kw["angle"] = angle
    if italic:
        kw["fontStyle"] = "italic"
    return alt.Chart(one()).mark_text(**kw).encode(x=alt.value(x), y=alt.value(y))


def panel(key):
    L = LAY[key]
    df = pd.DataFrame(PTS[key], columns=["x", "y"])
    inset = L["inset"]
    ax_common = dict(grid=False, domain=False, ticks=True, tickSize=7, tickWidth=1.2, tickColor=AX,
                     labelFont=FONT, labelFontSize=20, labelColor=INK)
    xaxis = alt.Axis(values=X_TICKS, format="d", labelPadding=6, **ax_common)
    ykw = dict(values=Y_TICKS[key], format=L["fmt"], labelPadding=4, **ax_common)
    if inset:
        ykw["offset"] = -inset
    if "expr" in L:
        ykw["labelExpr"] = L["expr"]
    yaxis = alt.Axis(**ykw)
    pts = alt.Chart(df).mark_circle(size=16, color=GREEN, opacity=1).encode(
        x=alt.X("x:Q", scale=alt.Scale(domain=L["xdom"], nice=False, zero=False), axis=xaxis, title=None),
        y=alt.Y("y:Q", scale=alt.Scale(domain=L["ydom"], nice=False, zero=False), axis=yaxis, title=None),
    )
    layers = [pts]
    fw = L["fw"]
    if L["right"]:
        layers.append(alt.Chart(one()).mark_rect(fill="transparent", stroke=AX, strokeWidth=1.2).encode(
            x=alt.value(inset), x2=alt.value(fw), y=alt.value(0), y2=alt.value(H)))
    else:
        for yy in (0, H):
            layers.append(alt.Chart(one()).mark_rule(color=AX, strokeWidth=1.2).encode(
                x=alt.value(inset), x2=alt.value(fw), y=alt.value(yy)))
        layers.append(alt.Chart(one()).mark_rule(color=AX, strokeWidth=1.2).encode(
            x=alt.value(inset), y=alt.value(0), y2=alt.value(H)))
    cx = inset + 137.6
    layers.append(txt(TITLE, cx, L["tdy"]))
    layers.append(txt(Y_TITLES[key], inset + L["ylx"], H / 2 - 7, angle=270))
    layers.append(txt(X_TITLE, cx, H + 50.5))
    layers.append(txt(TEST, cx, H + 76))
    layers.append(txt("rho = " + RHO[key] + ",", cx + 0.6, H + 101, align="right"))
    layers.append(txt("p", cx + 5.7, H + 101, align="left", italic=True))
    layers.append(txt("< 2.2e-16", cx + 21.1, H + 101, align="left"))
    layers.append(txt("(" + key + ")", L["lx"], H + 141))
    if L.get("anchor"):
        layers.append(alt.Chart(one()).mark_rule(strokeOpacity=0).encode(
            x=alt.value(-71.2), x2=alt.value(-71.2), y=alt.value(-45.5), y2=alt.value(-44.5)))
    return alt.layer(*layers).properties(width=L["w"], height=H)


chart = alt.concat(
    *[panel(k) for k in ["d", "e", "f", "g", "h", "i"]],
    columns=2,
    spacing=alt.RowColnumber(row=197.35, column=81.6),
    bounds="flush",
).properties(padding=0).configure_view(stroke="transparent")

chart.save("out.html", embed_options={"renderer": "svg", "actions": False})
